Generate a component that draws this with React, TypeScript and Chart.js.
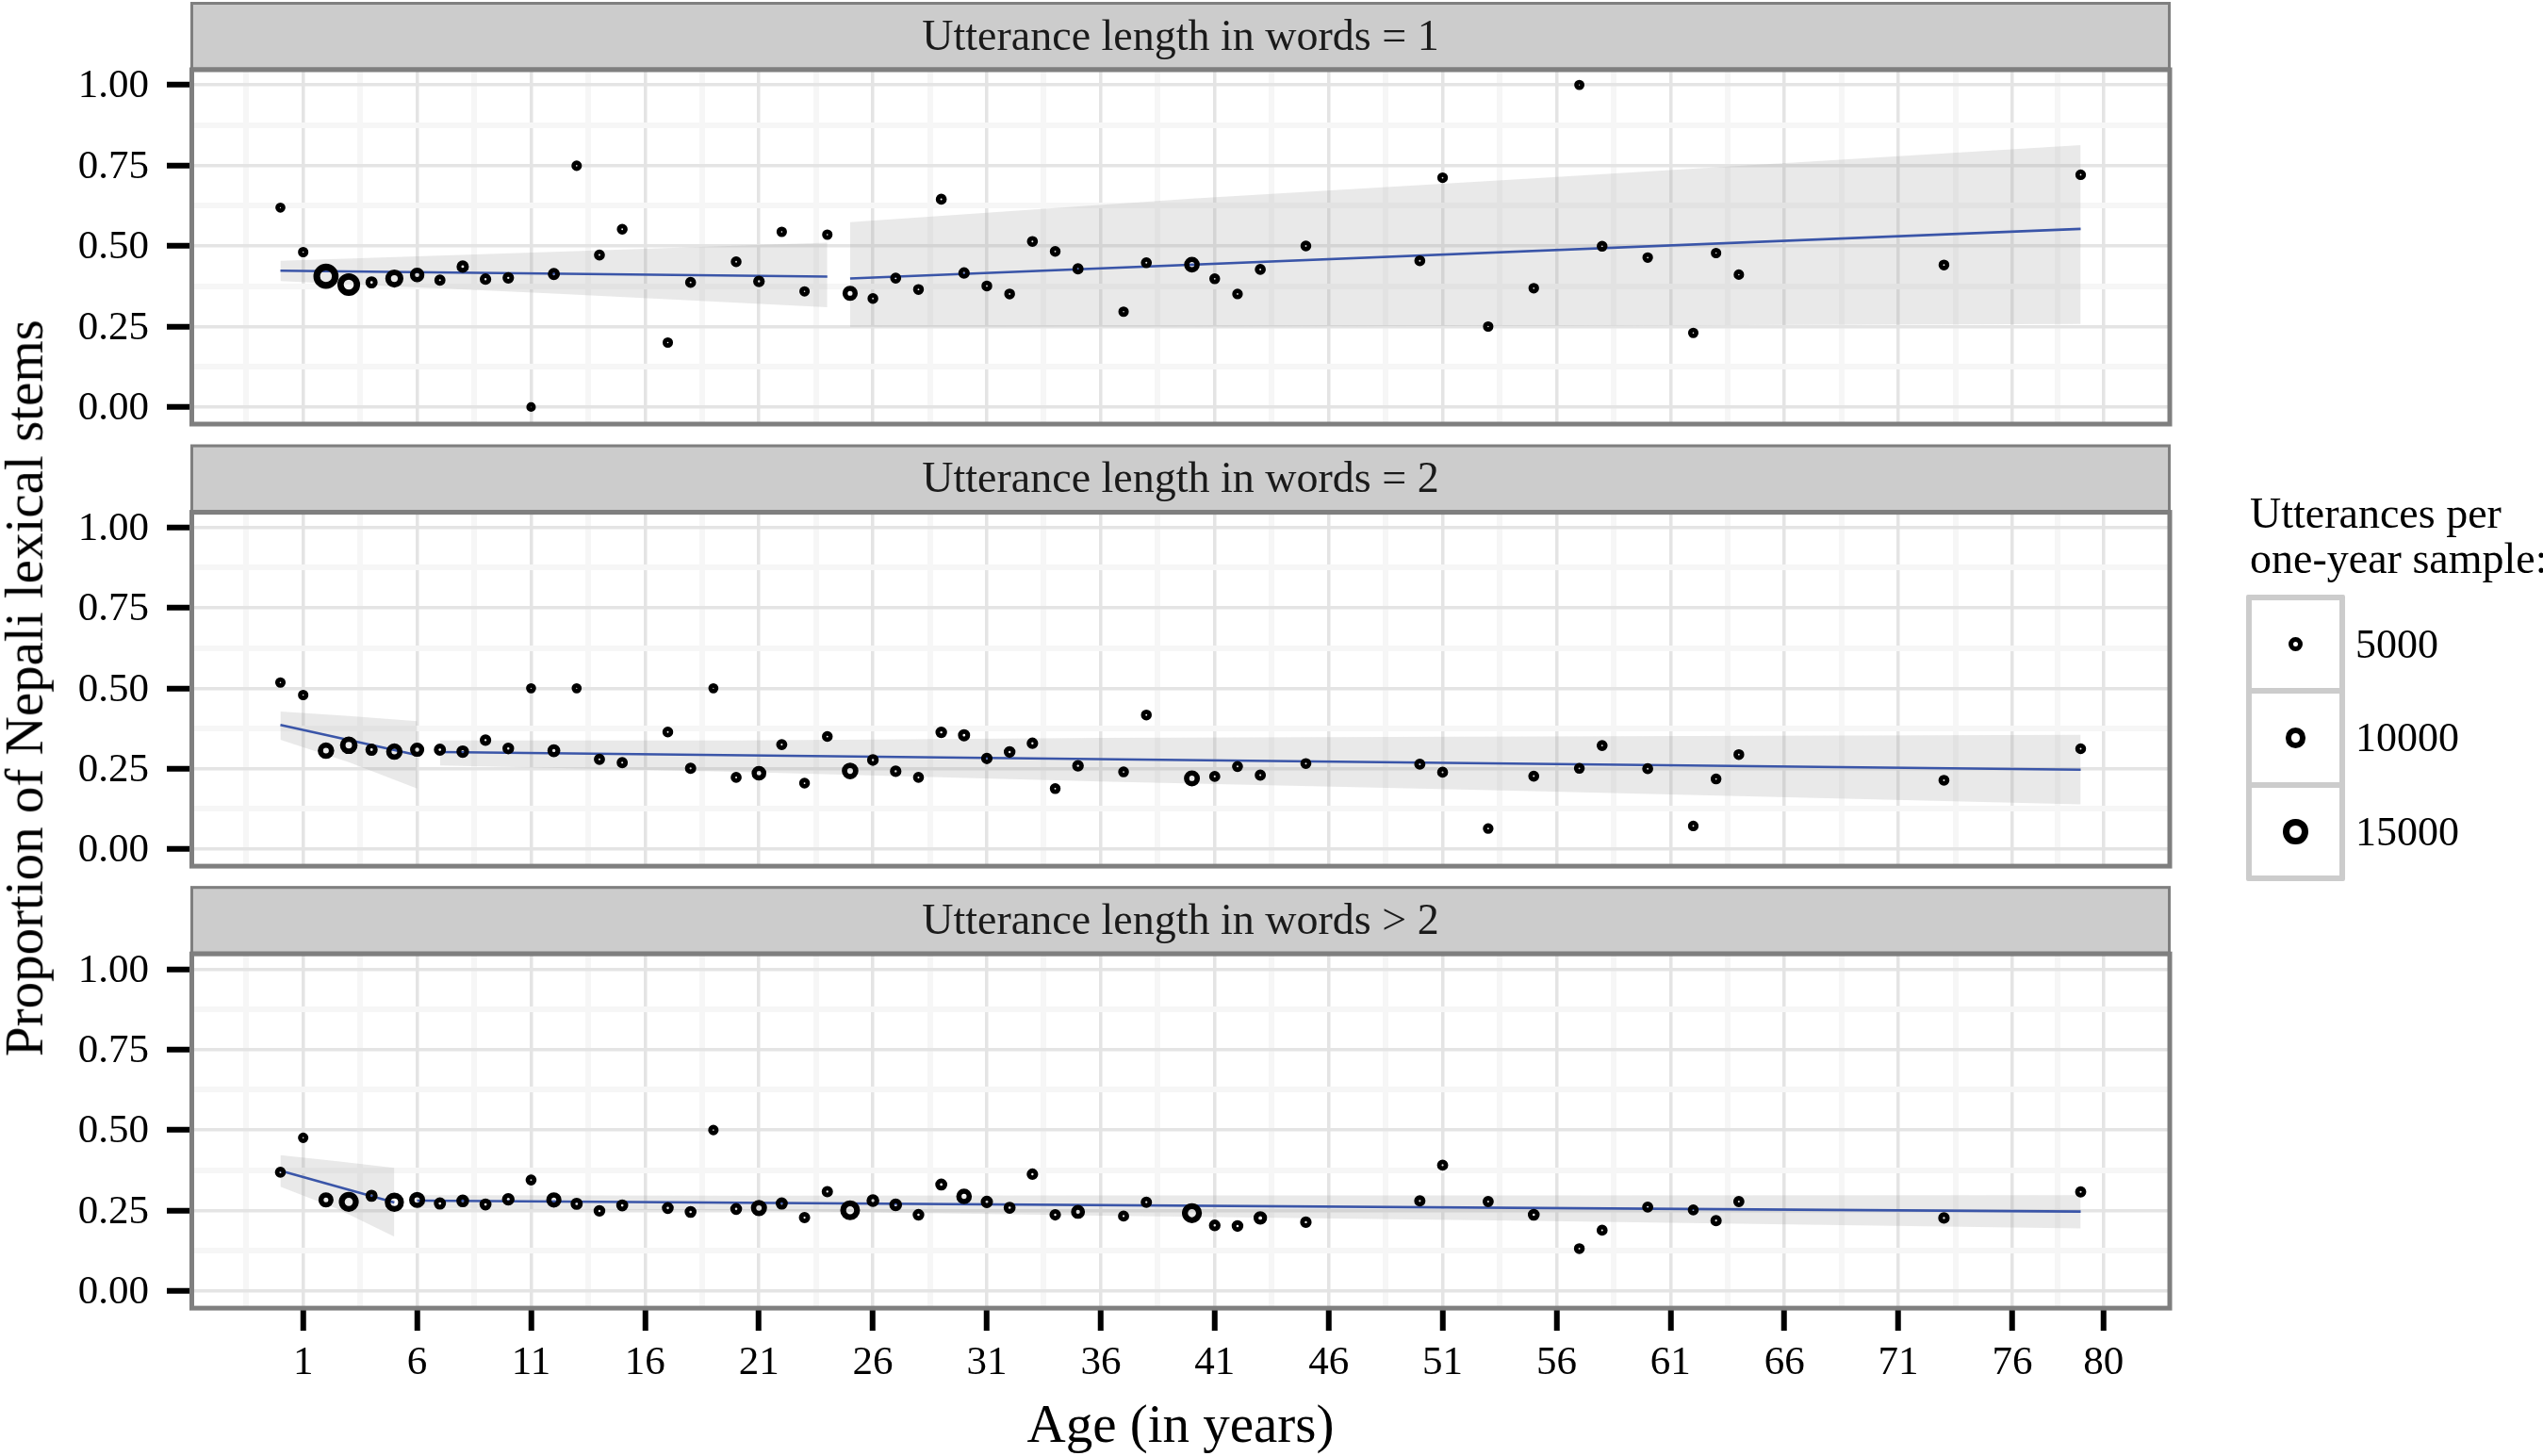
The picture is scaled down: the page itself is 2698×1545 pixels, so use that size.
import React, { useEffect, useRef } from "react";
import { Chart, registerables } from "chart.js";

Chart.register(...registerables);

const FONT = "'Liberation Serif', 'Times New Roman', Times, serif";

// ---------------- data ----------------
const panelLabels = [
  "Utterance length in words = 1",
  "Utterance length in words = 2",
  "Utterance length in words > 2",
];

// Panel 1: utterance length = 1
const ages1 = [0, 1, 2, 3, 4, 5, 6, 7, 8, 9, 10, 11, 12, 13, 14, 15, 17, 18, 20, 21, 22, 23, 24, 25, 26, 27, 28, 29, 30, 31, 32, 33, 34, 35, 37, 38, 40, 41, 42, 43, 45, 50, 51, 53, 55, 57, 58, 60, 62, 63, 64, 73, 79];
const prop1 = [0.619, 0.481, 0.406, 0.380, 0.387, 0.399, 0.410, 0.394, 0.436, 0.397, 0.401, 0.000, 0.413, 0.749, 0.472, 0.552, 0.200, 0.387, 0.451, 0.390, 0.544, 0.359, 0.535, 0.353, 0.337, 0.400, 0.365, 0.645, 0.416, 0.376, 0.351, 0.514, 0.483, 0.429, 0.296, 0.448, 0.442, 0.398, 0.351, 0.427, 0.500, 0.454, 0.712, 0.250, 0.369, 1.000, 0.499, 0.464, 0.230, 0.478, 0.411, 0.441, 0.721];
const count1 = [1800, 2000, 15500, 12500, 3000, 7700, 4600, 2400, 3100, 2600, 2600, 1500, 3000, 2000, 2300, 2200, 2000, 2300, 2200, 2700, 2000, 2000, 2000, 5200, 2200, 2300, 2200, 2300, 2600, 2200, 2200, 2300, 2200, 2400, 2000, 2300, 5500, 2200, 2100, 2300, 2200, 2300, 2100, 2000, 2100, 1900, 2200, 2100, 2000, 2000, 2000, 2200, 2100];

// Panel 2: utterance length = 2
const ages2 = [0, 1, 2, 3, 4, 5, 6, 7, 8, 9, 10, 11, 12, 13, 14, 15, 17, 18, 19, 20, 21, 22, 23, 24, 25, 26, 27, 28, 29, 30, 31, 32, 33, 34, 35, 37, 38, 40, 41, 42, 43, 45, 50, 51, 53, 55, 57, 58, 60, 62, 63, 64, 73, 79];
const prop2 = [0.518, 0.479, 0.306, 0.323, 0.309, 0.303, 0.309, 0.309, 0.303, 0.339, 0.313, 0.500, 0.306, 0.500, 0.279, 0.269, 0.364, 0.251, 0.500, 0.223, 0.236, 0.325, 0.205, 0.350, 0.243, 0.277, 0.242, 0.223, 0.363, 0.354, 0.282, 0.302, 0.329, 0.188, 0.259, 0.240, 0.417, 0.220, 0.226, 0.257, 0.230, 0.266, 0.264, 0.239, 0.064, 0.227, 0.251, 0.322, 0.250, 0.072, 0.218, 0.294, 0.214, 0.312];
const count2 = [2000, 2000, 6200, 7200, 3100, 6200, 4400, 3000, 3300, 2600, 2700, 1800, 3500, 1800, 2400, 2400, 2200, 2500, 1800, 2300, 4800, 2400, 2200, 2200, 6300, 2700, 2600, 2300, 2700, 3000, 2600, 2700, 2600, 2200, 2700, 2200, 2200, 5800, 2400, 2300, 2400, 2300, 2400, 2300, 2100, 2300, 2200, 2300, 2300, 2100, 2200, 2200, 2300, 2200];

// Panel 3: utterance length > 2
const ages3 = [0, 1, 2, 3, 4, 5, 6, 7, 8, 9, 10, 11, 12, 13, 14, 15, 17, 18, 19, 20, 21, 22, 23, 24, 25, 26, 27, 28, 29, 30, 31, 32, 33, 34, 35, 37, 38, 40, 41, 42, 43, 45, 50, 51, 53, 55, 57, 58, 60, 62, 63, 64, 73, 79];
const prop3 = [0.369, 0.476, 0.283, 0.277, 0.296, 0.276, 0.283, 0.272, 0.280, 0.269, 0.285, 0.345, 0.283, 0.271, 0.249, 0.266, 0.258, 0.246, 0.500, 0.255, 0.258, 0.272, 0.228, 0.309, 0.251, 0.281, 0.268, 0.237, 0.331, 0.294, 0.277, 0.259, 0.363, 0.237, 0.246, 0.233, 0.276, 0.242, 0.204, 0.202, 0.227, 0.214, 0.280, 0.391, 0.278, 0.237, 0.132, 0.189, 0.261, 0.252, 0.219, 0.278, 0.227, 0.308];
const count3 = [2300, 2000, 5100, 9500, 3000, 8700, 5900, 3000, 3400, 2900, 3300, 2300, 5200, 3000, 2700, 2900, 2800, 2800, 2000, 2800, 5900, 3000, 2500, 2500, 9300, 3400, 3400, 2700, 2900, 5500, 3100, 2900, 2600, 2600, 4200, 2400, 2500, 9500, 2700, 2700, 3900, 2600, 2500, 2400, 2400, 2800, 2200, 2300, 2400, 2300, 2500, 2400, 2600, 2400];

// Fitted lines (two age groups per panel)
const fit1A_age = [0, 24];
const fit1A_val = [0.423, 0.405];
const fit1B_age = [25, 79];
const fit1B_val = [0.399, 0.553];
const fit2A_age = [0, 6];
const fit2A_val = [0.386, 0.292];
const fit2B_age = [7, 79];
const fit2B_val = [0.302, 0.247];
const fit3A_age = [0, 5];
const fit3A_val = [0.374, 0.275];
const fit3B_age = [6, 79];
const fit3B_val = [0.281, 0.247];

// Confidence ribbons
const rib1A_age = [0, 12, 24];
const rib1A_hi = [0.454, 0.482, 0.510];
const rib1A_lo = [0.391, 0.352, 0.310];
const rib1B_age = [25, 40, 55, 79];
const rib1B_hi = [0.574, 0.647, 0.710, 0.813];
const rib1B_lo = [0.249, 0.250, 0.252, 0.258];
const rib2A_age = [0, 3, 6];
const rib2A_hi = [0.428, 0.414, 0.398];
const rib2A_lo = [0.340, 0.270, 0.188];
const rib2B_age = [7, 20, 36, 55, 79];
const rib2B_hi = [0.338, 0.338, 0.346, 0.350, 0.355];
const rib2B_lo = [0.260, 0.240, 0.210, 0.180, 0.139];
const rib3A_age = [0, 2.5, 5];
const rib3A_hi = [0.422, 0.403, 0.383];
const rib3A_lo = [0.324, 0.255, 0.169];
const rib3B_age = [6, 20, 36, 55, 79];
const rib3B_hi = [0.298, 0.296, 0.297, 0.297, 0.298];
const rib3B_lo = [0.256, 0.251, 0.234, 0.218, 0.195];

// Axis ticks
const xTickLabels = [1, 6, 11, 16, 21, 26, 31, 36, 41, 46, 51, 56, 61, 66, 71, 76, 80];
const xMinorTicks = [-1.5, 3.5, 8.5, 13.5, 18.5, 23.5, 28.5, 33.5, 38.5, 43.5, 48.5, 53.5, 58.5, 63.5, 68.5, 73.5, 78];
const yTickLabels = [0, 0.25, 0.5, 0.75, 1];
const yMinorTicks = [0.125, 0.375, 0.625, 0.875];
const legendCounts = [5000, 10000, 15000];

// ---------------- styling / geometry ----------------
const X_MIN = -3.95;
const X_MAX = 82.95;
const Y_MIN = -0.05;
const Y_MAX = 1.05;
const BLUE = "#3a55a8";
const RIBBON = "rgba(153,153,153,0.22)";
const GRID_MAJOR = "#e4e4e4";
const GRID_MINOR = "#f6f6f6";
const BORDER = "#7f7f7f";
const STRIP_H = 71;

const LAYOUT = [
  { top: 0, height: 500, padTop: 73, padBottom: 51, axisH: 0 },
  { top: 470, height: 500, padTop: 72.6, padBottom: 51.9, axisH: 0 },
  { top: 938, height: 607, padTop: 73.2, padBottom: 0, axisH: 157.9 },
];

type Fit = { age: number[]; val: number[] };
type Ribbon = { age: number[]; hi: number[]; lo: number[] };
type PanelSpec = {
  label: string;
  ages: number[];
  props: number[];
  counts: number[];
  fits: Fit[];
  ribbons: Ribbon[];
};

const panels: PanelSpec[] = [
  {
    label: panelLabels[0],
    ages: ages1,
    props: prop1,
    counts: count1,
    fits: [
      { age: fit1A_age, val: fit1A_val },
      { age: fit1B_age, val: fit1B_val },
    ],
    ribbons: [
      { age: rib1A_age, hi: rib1A_hi, lo: rib1A_lo },
      { age: rib1B_age, hi: rib1B_hi, lo: rib1B_lo },
    ],
  },
  {
    label: panelLabels[1],
    ages: ages2,
    props: prop2,
    counts: count2,
    fits: [
      { age: fit2A_age, val: fit2A_val },
      { age: fit2B_age, val: fit2B_val },
    ],
    ribbons: [
      { age: rib2A_age, hi: rib2A_hi, lo: rib2A_lo },
      { age: rib2B_age, hi: rib2B_hi, lo: rib2B_lo },
    ],
  },
  {
    label: panelLabels[2],
    ages: ages3,
    props: prop3,
    counts: count3,
    fits: [
      { age: fit3A_age, val: fit3A_val },
      { age: fit3B_age, val: fit3B_val },
    ],
    ribbons: [
      { age: rib3A_age, hi: rib3A_hi, lo: rib3A_lo },
      { age: rib3B_age, hi: rib3B_hi, lo: rib3B_lo },
    ],
  },
];

// size scale: point area grows linearly with the number of utterances
function outerRadius(n: number) {
  return Math.sqrt(9 + 0.0109 * n);
}
function ringWidth(n: number) {
  return 3.1 + 0.3 * outerRadius(n);
}

const xTickValues = [...xMinorTicks, ...xTickLabels].sort((a, b) => a - b);
const yTickValues = [...yMinorTicks, ...yTickLabels].sort((a, b) => a - b);

const panelDecor = {
  id: "panelDecor",
  beforeDraw(chart: any, _args: any, opts: any) {
    const { ctx, chartArea } = chart;
    const { left, right, top } = chartArea;
    ctx.save();
    ctx.fillStyle = "#cccccc";
    ctx.fillRect(left, top - STRIP_H, right - left, STRIP_H);
    ctx.strokeStyle = BORDER;
    ctx.lineWidth = 3;
    ctx.strokeRect(left + 1.5, top - STRIP_H + 1.5, right - left - 3, STRIP_H - 1.5);
    ctx.fillStyle = "#1a1a1a";
    ctx.font = `46px ${FONT}`;
    ctx.textAlign = "center";
    ctx.textBaseline = "middle";
    ctx.fillText(opts.text || "", (left + right) / 2, top - STRIP_H / 2 + 3);
    ctx.restore();
  },
  afterDraw(chart: any) {
    const { ctx, chartArea } = chart;
    const { left, right, top, bottom } = chartArea;
    ctx.save();
    ctx.strokeStyle = BORDER;
    ctx.lineWidth = 5;
    ctx.strokeRect(left + 1.5, top + 1, right - left - 2.5, bottom - top);
    ctx.restore();
  },
};

function buildChart(canvas: HTMLCanvasElement, spec: PanelSpec, lay: any, isBottom: boolean) {
  const datasets: any[] = [];
  const nOf = (c: any) => (c && c.raw && c.raw.n ? c.raw.n : 2000);
  datasets.push({
    type: "scatter",
    data: spec.ages.map((a, i) => ({ x: a, y: spec.props[i], n: spec.counts[i] })),
    order: 0,
    pointStyle: "circle",
    pointBackgroundColor: "rgba(0,0,0,0)",
    pointBorderColor: "#000000",
    pointRadius: (c: any) => outerRadius(nOf(c)) - ringWidth(nOf(c)) / 2,
    pointHoverRadius: (c: any) => outerRadius(nOf(c)) - ringWidth(nOf(c)) / 2,
    pointBorderWidth: (c: any) => ringWidth(nOf(c)),
    pointHoverBorderWidth: (c: any) => ringWidth(nOf(c)),
    showLine: false,
  });
  spec.fits.forEach((f) => {
    datasets.push({
      type: "line",
      data: f.age.map((a, i) => ({ x: a, y: f.val[i] })),
      borderColor: BLUE,
      borderWidth: 2.6,
      pointRadius: 0,
      fill: false,
      tension: 0,
      order: 1,
    });
  });
  spec.ribbons.forEach((r) => {
    datasets.push({
      type: "line",
      data: r.age.map((a, i) => ({ x: a, y: r.hi[i] })),
      borderColor: "rgba(0,0,0,0)",
      borderWidth: 0,
      pointRadius: 0,
      fill: "+1",
      backgroundColor: RIBBON,
      tension: 0,
      order: 2,
    });
    datasets.push({
      type: "line",
      data: r.age.map((a, i) => ({ x: a, y: r.lo[i] })),
      borderColor: "rgba(0,0,0,0)",
      borderWidth: 0,
      pointRadius: 0,
      fill: false,
      tension: 0,
      order: 2,
    });
  });

  const isMajX = (c: any) => !!(c && c.tick && xTickLabels.includes(c.tick.value));
  const isMajY = (c: any) => !!(c && c.tick && yTickLabels.includes(c.tick.value));

  return new Chart(canvas, {
    type: "scatter",
    data: { datasets },
    options: {
      responsive: false,
      animation: false,
      events: [],
      devicePixelRatio: 1,
      layout: { padding: { left: 0, right: 395, top: lay.padTop, bottom: lay.padBottom } },
      plugins: {
        legend: { display: false },
        tooltip: { enabled: false },
        title: { display: false },
        panelDecor: { text: spec.label },
      } as any,
      scales: {
        x: {
          type: "linear",
          min: X_MIN,
          max: X_MAX,
          afterBuildTicks: (s: any) => {
            s.ticks = xTickValues.map((v) => ({ value: v }));
          },
          afterFit: (s: any) => {
            s.height = lay.axisH;
            s.paddingLeft = 0;
            s.paddingRight = 0;
          },
          ticks: {
            display: isBottom,
            autoSkip: false,
            maxRotation: 0,
            minRotation: 0,
            padding: 9,
            color: "#000000",
            font: { family: FONT, size: 43 },
            callback: (v: any) => (xTickLabels.includes(v) ? String(v) : ""),
          },
          grid: {
            color: (c: any) => (isMajX(c) ? GRID_MAJOR : GRID_MINOR),
            lineWidth: (c: any) => (isMajX(c) ? 3.5 : 6),
            drawTicks: isBottom,
            tickLength: 25,
            tickWidth: 6,
            tickColor: (c: any) => (isMajX(c) ? "#000000" : "rgba(0,0,0,0)"),
          },
          border: { display: false },
          title: isBottom
            ? {
                display: true,
                text: "Age (in years)",
                color: "#000000",
                font: { family: FONT, size: 57, lineHeight: 1.06 },
                padding: { top: 0, bottom: 0 },
              }
            : { display: false },
        },
        y: {
          type: "linear",
          min: Y_MIN,
          max: Y_MAX,
          afterBuildTicks: (s: any) => {
            s.ticks = yTickValues.map((v) => ({ value: v }));
          },
          afterFit: (s: any) => {
            s.width = 202;
            s.paddingTop = 0;
            s.paddingBottom = 0;
          },
          ticks: {
            autoSkip: false,
            padding: 19,
            labelOffset: 2,
            color: "#000000",
            font: { family: FONT, size: 43 },
            callback: (v: any) => (yTickLabels.includes(v) ? Number(v).toFixed(2) : ""),
          },
          grid: {
            color: (c: any) => (isMajY(c) ? GRID_MAJOR : GRID_MINOR),
            lineWidth: (c: any) => (isMajY(c) ? 3.5 : 6),
            drawTicks: true,
            tickLength: 25,
            tickWidth: 6,
            tickColor: (c: any) => (isMajY(c) ? "#000000" : "rgba(0,0,0,0)"),
          },
          border: { display: false },
        },
      },
    } as any,
    plugins: [panelDecor as any],
  });
}

export default function App() {
  const r0 = useRef<HTMLCanvasElement>(null);
  const r1 = useRef<HTMLCanvasElement>(null);
  const r2 = useRef<HTMLCanvasElement>(null);
  const refs = [r0, r1, r2];

  useEffect(() => {
    const charts: Chart[] = [];
    refs.forEach((r, i) => {
      if (r.current) charts.push(buildChart(r.current, panels[i], LAYOUT[i], i === 2));
    });
    return () => charts.forEach((c) => c.destroy());
  }, []);

  const keyCenters = [683.5, 783, 882.5];

  return (
    <div
      style={{
        position: "fixed",
        left: 0,
        top: 0,
        width: 2698,
        height: 1545,
        background: "#ffffff",
        overflow: "hidden",
      }}
    >
      {LAYOUT.map((lay, i) => (
        <canvas
          key={i}
          ref={refs[i]}
          width={2698}
          height={lay.height}
          style={{ position: "absolute", left: 0, top: lay.top, display: "block" }}
        />
      ))}

      {/* y-axis title */}
      <div
        style={{
          position: "absolute",
          left: 26 - 600,
          top: 730 - 34.2,
          width: 1200,
          height: 68.4,
          lineHeight: "68.4px",
          fontFamily: FONT,
          fontSize: 57,
          color: "#000",
          textAlign: "center",
          whiteSpace: "nowrap",
          transform: "rotate(-90deg)",
          transformOrigin: "50% 50%",
        }}
      >
        Proportion of Nepali lexical stems
      </div>

      {/* legend */}
      <div
        style={{
          position: "absolute",
          left: 2387,
          top: 520.5,
          fontFamily: FONT,
          fontSize: 46,
          lineHeight: "48px",
          color: "#000",
          whiteSpace: "nowrap",
        }}
      >
        <div>Utterances per</div>
        <div>one-year sample:</div>
      </div>
      <div
        style={{
          position: "absolute",
          left: 2383,
          top: 631,
          width: 105,
          height: 304,
          boxSizing: "border-box",
          border: "6px solid #cccccc",
          borderRadius: 2,
        }}
      />
      <div style={{ position: "absolute", left: 2383, top: 730, width: 105, height: 6, background: "#cccccc" }} />
      <div style={{ position: "absolute", left: 2383, top: 830, width: 105, height: 6, background: "#cccccc" }} />
      {legendCounts.map((n, i) => {
        const R = outerRadius(n);
        const w = ringWidth(n);
        return (
          <React.Fragment key={n}>
            <div
              style={{
                position: "absolute",
                left: 2435.5 - R,
                top: keyCenters[i] - R,
                width: 2 * R,
                height: 2 * R,
                boxSizing: "border-box",
                border: `${w}px solid #000`,
                borderRadius: "50%",
              }}
            />
            <div
              style={{
                position: "absolute",
                left: 2499,
                top: keyCenters[i] - 26,
                fontFamily: FONT,
                fontSize: 44,
                lineHeight: "52px",
                color: "#000",
                whiteSpace: "nowrap",
              }}
            >
              {String(n)}
            </div>
          </React.Fragment>
        );
      })}
    </div>
  );
}
